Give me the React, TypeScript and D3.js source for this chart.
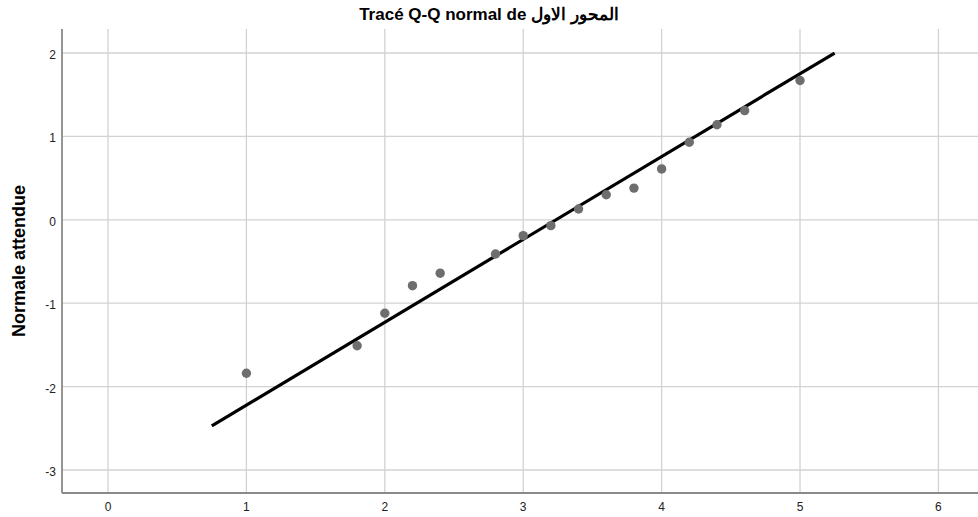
import React from "react";
import * as d3 from "d3";

// observed values (x) vs expected normal (y)
const observed = [1, 1.8, 2, 2.2, 2.4, 2.8, 3, 3.2, 3.4, 3.6, 3.8, 4, 4.2, 4.4, 4.6, 5];
const expected = [-1.84, -1.51, -1.12, -0.79, -0.64, -0.41, -0.19, -0.07, 0.13, 0.3, 0.38, 0.61, 0.93, 1.14, 1.31, 1.67];

// reference line endpoints
const lineX = [0.75, 5.25];
const lineY = [-2.47, 2.0];

const xTicks = [0, 1, 2, 3, 4, 5, 6];
const yTicks = [-3, -2, -1, 0, 1, 2];

const title = "Tracé Q-Q normal de المحور الاول";
const yLabel = "Normale attendue";

const App = () => {
  const width = 978;
  const height = 517;
  const left = 62;
  const right = 978;
  const top = 29;
  const bottom = 493;

  const x = d3.scaleLinear().domain([-0.3324, 6.286]).range([left, right]);
  const y = d3.scaleLinear().domain([-3.276, 2.288]).range([bottom, top]);

  const line = d3
    .line<number>()
    .x((d, i) => x(lineX[i]))
    .y((d) => y(d));

  const font = "'Liberation Sans', Arial, sans-serif";

  return (
    <svg
      width={width}
      height={height}
      style={{ position: "absolute", left: 0, top: 0, background: "#fff" }}
      fontFamily={font}
    >
      <text x={489} y={20} textAnchor="middle" fontSize={17} fontWeight="bold" direction="ltr">
        {title}
      </text>

      {xTicks.map((t) => (
        <line key={"gx" + t} x1={x(t)} x2={x(t)} y1={top} y2={bottom} stroke="#d2d2d2" strokeWidth={1.3} />
      ))}
      {yTicks.map((t) => (
        <line key={"gy" + t} x1={left} x2={right} y1={y(t)} y2={y(t)} stroke="#d2d2d2" strokeWidth={1.3} />
      ))}

      <line x1={left} x2={left} y1={top} y2={bottom} stroke="#8a8a8a" strokeWidth={1.8} />
      <line x1={left} x2={right} y1={bottom} y2={bottom} stroke="#8a8a8a" strokeWidth={1.8} />

      {xTicks.map((t) => (
        <text key={"tx" + t} x={x(t)} y={511} textAnchor="middle" fontSize={12} fill="#222">
          {t}
        </text>
      ))}
      {yTicks.map((t) => (
        <text key={"ty" + t} x={56} y={y(t) + 6} textAnchor="end" fontSize={12} fill="#222">
          {t}
        </text>
      ))}

      <text
        transform={`translate(25,${(top + bottom) / 2}) rotate(-90)`}
        textAnchor="middle"
        fontSize={18}
        fontWeight="bold"
      >
        {yLabel}
      </text>

      <path d={line(lineY) || ""} fill="none" stroke="#000" strokeWidth={3.2} />

      {observed.map((v, i) => (
        <circle key={"p" + i} cx={x(v)} cy={y(expected[i])} r={4.7} fill="#6e6e6e" />
      ))}
    </svg>
  );
};

export default App;
